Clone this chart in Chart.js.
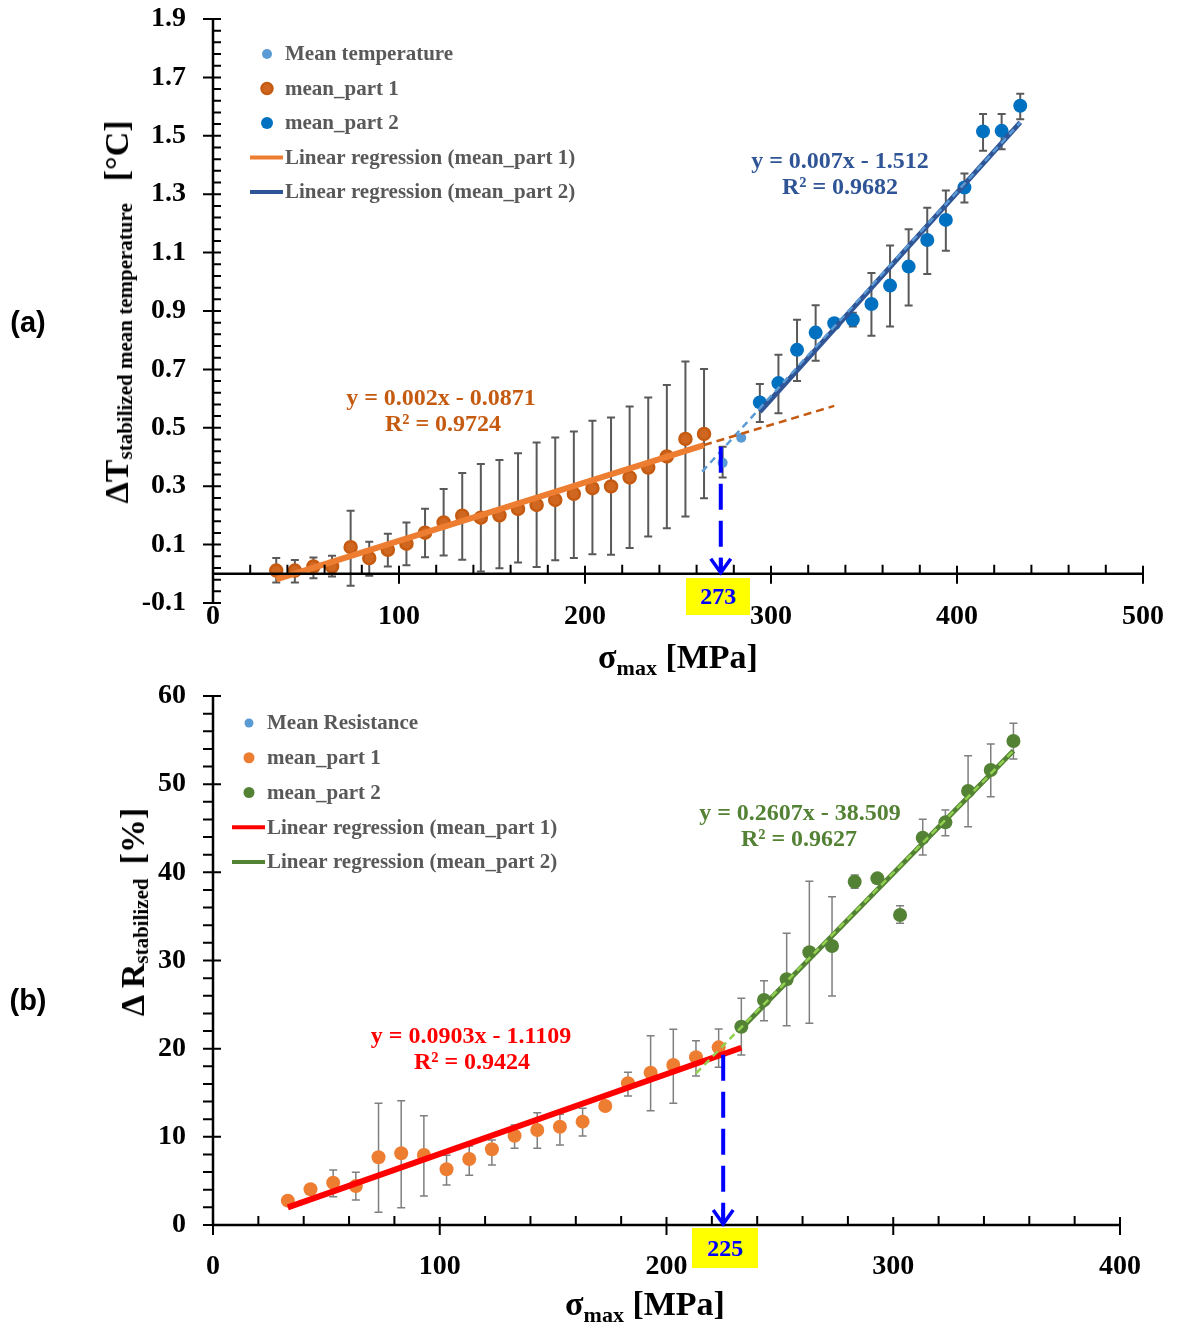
<!DOCTYPE html>
<html><head><meta charset="utf-8">
<script src="https://cdn.jsdelivr.net/npm/chart.js@4.4.0/dist/chart.umd.min.js"></script>
<style>
html,body{margin:0;padding:0;background:#fff;}
#wrap{position:relative;width:1179px;height:1329px;overflow:hidden;background:#fff;font-family:'Liberation Serif','Times New Roman',serif;}
canvas{position:absolute;left:0;}
.t{position:absolute;white-space:nowrap;font-weight:bold;transform:translate(-50%,-50%);line-height:1;}
.eq{font-size:24px;}
.xt{font-size:34px;color:#000;}
.xt sub{font-size:22px;vertical-align:baseline;position:relative;top:7px;}
.yt{font-size:34px;color:#000;transform:translate(-50%,-50%) rotate(-90deg);line-height:40px;}
.yt sub{font-size:21px;vertical-align:baseline;position:relative;top:4px;}
.pl{font-family:'Liberation Sans',Arial,sans-serif;font-size:29px;color:#000;}
.box{position:absolute;background:#FFFF00;color:#0000FF;font-weight:bold;font-size:24px;display:flex;align-items:center;justify-content:center;}
</style></head>
<body>
<div id="wrap">
<canvas id="ca" width="1179" height="665" style="top:0"></canvas>
<canvas id="cb" width="1179" height="664" style="top:665px"></canvas>

<div class="t pl" style="left:28px;top:322px">(a)</div>
<div class="t pl" style="left:28px;top:1000px">(b)</div>

<div class="t yt" style="left:119px;top:312px">ΔT<sub>stabilized mean temperature</sub><span style="margin-left:22px">[°C]</span></div>
<div class="t xt" style="left:678px;top:657px">σ<sub>max</sub> [MPa]</div>
<div class="t yt" style="left:135px;top:912px">Δ R<sub>stabilized</sub><span style="margin-left:14px">[%]</span></div>
<div class="t xt" style="left:645px;top:1304px">σ<sub>max</sub> [MPa]</div>

<div class="t eq" style="left:441px;top:397px;color:#C55A11">y = 0.002x - 0.0871</div>
<div class="t eq" style="left:443px;top:423px;color:#C55A11">R² = 0.9724</div>
<div class="t eq" style="left:840px;top:160px;color:#2F5597">y = 0.007x - 1.512</div>
<div class="t eq" style="left:840px;top:186px;color:#2F5597">R² = 0.9682</div>
<div class="t eq" style="left:471px;top:1035px;color:#FF0000">y = 0.0903x - 1.1109</div>
<div class="t eq" style="left:472px;top:1061px;color:#FF0000">R² = 0.9424</div>
<div class="t eq" style="left:800px;top:812px;color:#548235">y = 0.2607x - 38.509</div>
<div class="t eq" style="left:799px;top:838px;color:#548235">R² = 0.9627</div>

<div class="box" style="left:686px;top:578px;width:64px;height:37px">273</div>
<div class="box" style="left:692px;top:1228px;width:66px;height:40px">225</div>
</div>

<script>
// ---------- Panel (a) data : ΔT stabilized mean temperature [°C] vs σmax [MPa]
const sigmaA1 = [34,44,54,64,74,84,94,104,114,124,134,144,154,164,174,184,194,204,214,224,234,244,254,264];
const dTPart1 = [0.011,0.011,0.025,0.025,0.091,0.054,0.082,0.103,0.141,0.176,0.199,0.192,0.200,0.222,0.236,0.253,0.274,0.293,0.299,0.330,0.364,0.402,0.462,0.479];
const dTPart1Hi = [0.054,0.047,0.056,0.062,0.216,0.110,0.137,0.176,0.223,0.290,0.345,0.376,0.390,0.413,0.450,0.467,0.487,0.524,0.535,0.573,0.604,0.647,0.727,0.701];
const dTPart1Lo = [-0.030,-0.030,-0.015,-0.009,-0.041,-0.007,0.025,0.029,0.057,0.063,0.048,0.008,0.019,0.039,0.023,0.046,0.054,0.067,0.065,0.088,0.128,0.156,0.196,0.259];

const sigmaAM = [274,284];
const dTMid = [0.380,0.466];
const dTMidHi = [0.435,0.466];
const dTMidLo = [0.330,0.466];

const sigmaA2 = [294,304,314,324,334,344,354,364,374,384,394,404,414,424,434];
const dTPart2 = [0.587,0.653,0.767,0.826,0.858,0.870,0.924,0.987,1.052,1.143,1.212,1.323,1.515,1.517,1.603];
const dTPart2Hi = [0.650,0.750,0.870,0.920,0.858,0.894,1.030,1.124,1.180,1.254,1.313,1.371,1.575,1.575,1.644];
const dTPart2Lo = [0.520,0.550,0.660,0.730,0.858,0.847,0.815,0.847,0.919,1.027,1.106,1.272,1.449,1.454,1.557];

const regA1X = [34,264],  regA1Y = [-0.019,0.441];
const regA1ExtX = [264,334], regA1ExtY = [0.441,0.575];
const regA2X = [294,434], regA2Y = [0.555,1.546];
const regA2ExtX = [263,434], regA2ExtY = [0.350,1.546];
const arrowA = [273, 0.435];
const yTicksA = [-0.1, 1.9, 0.2];
const xTicksA = [0, 500, 100];

// ---------- Panel (b) data : ΔR stabilized [%] vs σmax [MPa]
const sigmaB1 = [33,43,53,63,73,83,93,103,113,123,133,143,153,163,173,183,193,203,213,223];
const dRPart1 = [2.76,4.05,4.80,4.42,7.68,8.13,7.94,6.32,7.49,8.60,10.13,10.77,11.15,11.72,13.50,16.07,17.28,18.15,19.02,20.15];
const dRPart1Hi = [2.76,4.05,6.24,5.97,13.80,14.10,12.40,7.90,8.96,9.64,11.34,12.74,12.55,13.23,13.50,17.32,21.47,22.20,20.90,22.23];
const dRPart1Lo = [2.76,4.05,3.21,2.83,1.44,1.97,3.29,4.54,5.63,6.80,8.70,8.70,9.07,10.10,13.50,14.63,12.96,13.80,16.90,17.89];

const sigmaB2 = [233,243,253,263,273,283,293,303,313,323,333,343,353];
const dRPart2 = [22.49,25.52,27.87,30.93,31.64,38.94,39.32,35.16,43.93,45.67,49.22,51.60,54.89];
const dRPart2Hi = [25.71,27.71,33.08,39.00,37.24,39.70,39.32,36.22,46.01,47.07,53.23,54.55,56.90];
const dRPart2Lo = [19.28,23.17,22.60,22.87,25.97,38.19,39.32,34.22,41.96,44.15,45.17,48.58,52.85];

const regB1X = [33,233],  regB1Y = [2.0,20.1];
const regB2X = [233,353], regB2Y = [22.3,53.8];
const regB2ExtX = [213,353], regB2ExtY = [17.2,53.8];
const arrowB = [225, 19.3];
const yTicksB = [0, 60, 10];
const xTicksB = [0, 400, 100];

// ---------- helpers
const SERIF = "'Liberation Serif','Times New Roman',serif";
const pts = (xs, ys) => xs.map((x, i) => ({x, y: ys[i]}));

function errorBars(sets) {
  return { id: 'errorBars', beforeDatasetsDraw(chart) {
    const ctx = chart.ctx, xs = chart.scales.x, ys = chart.scales.y;
    ctx.save();
    sets.forEach(s => {
      ctx.strokeStyle = s.color; ctx.lineWidth = s.width;
      ctx.beginPath();
      s.x.forEach((xv, i) => {
        if (s.hi[i] === s.lo[i]) return;
        const px = xs.getPixelForValue(xv), p1 = ys.getPixelForValue(s.hi[i]), p2 = ys.getPixelForValue(s.lo[i]);
        ctx.moveTo(px, p1); ctx.lineTo(px, p2);
        ctx.moveTo(px - s.cap, p1); ctx.lineTo(px + s.cap, p1);
        ctx.moveTo(px - s.cap, p2); ctx.lineTo(px + s.cap, p2);
      });
      ctx.stroke();
    });
    ctx.restore();
  }};
}

function axesDecor(c) {
  return { id: 'axesDecor', afterDatasetsDraw(chart) {
    const ctx = chart.ctx, xs = chart.scales.x, ys = chart.scales.y;
    const x0 = xs.getPixelForValue(c.xMin), x1 = xs.getPixelForValue(c.xMax);
    const yT = ys.getPixelForValue(c.yMax), yB = ys.getPixelForValue(c.yMin);
    const yAx = ys.getPixelForValue(c.xAxisAt);
    ctx.save();
    ctx.strokeStyle = '#000'; ctx.lineWidth = 2.5;
    ctx.beginPath();
    ctx.moveTo(x0, yT - 1); ctx.lineTo(x0, yB + 1);
    ctx.moveTo(x0, yAx); ctx.lineTo(x1 + 1, yAx);
    ctx.stroke();
    ctx.lineWidth = 2;
    ctx.beginPath();
    const nY = Math.round((c.yMax - c.yMin) / c.yMinor);
    for (let k = 0; k <= nY; k++) {
      const p = ys.getPixelForValue(c.yMin + k * c.yMinor);
      if (k % 5 === 0) { ctx.moveTo(x0 - 10, p); ctx.lineTo(x0 + 8, p); }
      else { ctx.moveTo(x0 + c.yMinA, p); ctx.lineTo(x0 + c.yMinB, p); }
    }
    const nX = Math.round((c.xMax - c.xMin) / c.xMinor);
    for (let k = 0; k <= nX; k++) {
      const p = xs.getPixelForValue(c.xMin + k * c.xMinor);
      if (k % 5 === 0) { ctx.moveTo(p, yAx - 8); ctx.lineTo(p, yAx + 10); }
      else { ctx.moveTo(p, yAx - 9); ctx.lineTo(p, yAx); }
    }
    ctx.stroke();
    // arrow
    const ax = xs.getPixelForValue(c.arrow[0]);
    const ay0 = ys.getPixelForValue(c.arrow[1]);
    ctx.strokeStyle = '#0000FF'; ctx.lineWidth = 4;
    ctx.setLineDash([26, 11]);
    ctx.beginPath(); ctx.moveTo(ax, ay0); ctx.lineTo(ax, yAx - 3); ctx.stroke();
    ctx.setLineDash([]);
    ctx.lineWidth = 3.5;
    ctx.beginPath();
    ctx.moveTo(ax - 10, yAx - 15); ctx.lineTo(ax, yAx - 1); ctx.lineTo(ax + 10, yAx - 15);
    ctx.moveTo(ax, yAx - 16); ctx.lineTo(ax, yAx - 1);
    ctx.stroke();
    ctx.restore();
  }};
}

function legendDecor(entries, pos) {
  return { id: 'legendDecor', afterDraw(chart) {
    const ctx = chart.ctx;
    ctx.save();
    ctx.font = 'bold 21px ' + SERIF;
    ctx.textBaseline = 'middle';
    entries.forEach((ds, i) => {
      const y = pos.y0 + i * pos.dy;
      if (ds.showLine) {
        ctx.strokeStyle = ds.borderColor; ctx.lineWidth = 4;
        ctx.beginPath(); ctx.moveTo(pos.lx0, y); ctx.lineTo(pos.lx1, y); ctx.stroke();
      } else {
        ctx.beginPath(); ctx.arc(pos.mx, y, ds.legendR, 0, Math.PI * 2);
        ctx.fillStyle = ds.backgroundColor; ctx.fill();
        if (ds.borderWidth) { ctx.lineWidth = ds.borderWidth; ctx.strokeStyle = ds.borderColor; ctx.stroke(); }
      }
      ctx.fillStyle = '#595959';
      ctx.fillText(ds.label, pos.tx, y + 1);
    });
    ctx.restore();
  }};
}

function scaleOpts(tk, yWidth, xHeight, xPad, fmt) {
  const font = {family: SERIF, size: 28, weight: 'bold', lineHeight: 1};
  return {
    x: { type: 'linear', min: tk.x[0], max: tk.x[1],
         ticks: {stepSize: tk.x[2], color: '#000', font, padding: xPad, autoSkip: false, maxRotation: 0},
         grid: {display: false, drawTicks: false}, border: {display: false},
         afterFit: s => { s.height = xHeight; s.paddingLeft = 0; s.paddingRight = 0; } },
    y: { type: 'linear', min: tk.y[0], max: tk.y[1],
         ticks: {stepSize: tk.y[2], color: '#000', font, padding: 27, callback: fmt},
         grid: {display: false, drawTicks: false}, border: {display: false},
         afterFit: s => { s.width = yWidth; s.paddingTop = 0; s.paddingBottom = 0; } }
  };
}

// ---------- Chart (a)
const dsA_mean = {label: 'Mean temperature', data: pts(sigmaA1.concat(sigmaAM, sigmaA2), dTPart1.concat(dTMid, dTPart2)),
  backgroundColor: '#5B9BD5', borderWidth: 0, pointRadius: 5, legendR: 5, order: 4};
const dsA_p1 = {label: 'mean_part 1', data: pts(sigmaA1, dTPart1), backgroundColor: '#D06720', borderColor: '#C55A11',
  borderWidth: 2.5, pointRadius: 6, legendR: 5.5, order: 3};
const dsA_p2 = {label: 'mean_part 2', data: pts(sigmaA2, dTPart2), backgroundColor: '#0070C0', borderWidth: 0, pointRadius: 7, legendR: 6, order: 3};
const dsA_r1 = {label: 'Linear regression (mean_part 1)', data: pts(regA1X, regA1Y), showLine: true, borderColor: '#ED7D31',
  borderWidth: 6, pointRadius: 0, order: 2};
const dsA_r2 = {label: 'Linear regression (mean_part 2)', data: pts(regA2X, regA2Y), showLine: true, borderColor: '#2F5597',
  borderWidth: 5, pointRadius: 0, order: 2};
const dsA_e1 = {label: 'Forecast (mean_part 1)', data: pts(regA1ExtX, regA1ExtY), showLine: true, borderColor: '#C55A11',
  borderWidth: 2.5, borderDash: [8, 5], pointRadius: 0, order: 1};
const dsA_e2 = {label: 'Trend (Mean temperature)', data: pts(regA2ExtX, regA2ExtY), showLine: true, borderColor: '#5B9BD5',
  borderWidth: 2.5, borderDash: [7, 5], pointRadius: 0, order: 1};

new Chart(document.getElementById('ca'), {
  type: 'scatter',
  data: {datasets: [dsA_e1, dsA_e2, dsA_r1, dsA_r2, dsA_p1, dsA_p2, dsA_mean]},
  options: {
    responsive: false, animation: false, events: [],
    layout: {padding: {top: 19, right: 36, left: 0, bottom: 0}},
    plugins: {legend: {display: false}, tooltip: {enabled: false}},
    scales: scaleOpts({x: xTicksA, y: yTicksA}, 213, 62, 0, v => Number(v).toFixed(1))
  },
  plugins: [
    errorBars([
      {x: sigmaA1, hi: dTPart1Hi, lo: dTPart1Lo, color: '#595959', width: 2, cap: 4},
      {x: sigmaAM, hi: dTMidHi, lo: dTMidLo, color: '#595959', width: 2, cap: 4},
      {x: sigmaA2, hi: dTPart2Hi, lo: dTPart2Lo, color: '#595959', width: 2, cap: 4}
    ]),
    axesDecor({xMin: 0, xMax: 500, xMinor: 20, yMin: -0.1, yMax: 1.9, yMinor: 0.04, xAxisAt: 0, yMinA: 0, yMinB: 8, arrow: arrowA}),
    legendDecor([dsA_mean, dsA_p1, dsA_p2, dsA_r1, dsA_r2], {y0: 54, dy: 34.5, mx: 267, lx0: 250, lx1: 283, tx: 285})
  ]
});

// ---------- Chart (b)
const dsB_mean = {label: 'Mean Resistance', data: pts(sigmaB1.concat(sigmaB2), dRPart1.concat(dRPart2)),
  backgroundColor: '#5B9BD5', borderWidth: 0, pointRadius: 5, legendR: 4.5, order: 4};
const dsB_p1 = {label: 'mean_part 1', data: pts(sigmaB1, dRPart1), backgroundColor: '#ED7D31', borderWidth: 0, pointRadius: 7, legendR: 5.5, order: 3};
const dsB_p2 = {label: 'mean_part 2', data: pts(sigmaB2, dRPart2), backgroundColor: '#548235', borderWidth: 0, pointRadius: 7, legendR: 5.5, order: 3};
const dsB_r1 = {label: 'Linear regression (mean_part 1)', data: pts(regB1X, regB1Y), showLine: true, borderColor: '#FF0000',
  borderWidth: 6, pointRadius: 0, order: 2};
const dsB_r2 = {label: 'Linear regression (mean_part 2)', data: pts(regB2X, regB2Y), showLine: true, borderColor: '#548235',
  borderWidth: 5, pointRadius: 0, order: 2};
const dsB_e2 = {label: 'Trend (Mean Resistance)', data: pts(regB2ExtX, regB2ExtY), showLine: true, borderColor: '#92D050',
  borderWidth: 2.5, borderDash: [7, 5], pointRadius: 0, order: 1};

new Chart(document.getElementById('cb'), {
  type: 'scatter',
  data: {datasets: [dsB_e2, dsB_r1, dsB_r2, dsB_p1, dsB_p2, dsB_mean]},
  options: {
    responsive: false, animation: false, events: [],
    layout: {padding: {top: 31, right: 59, left: 0, bottom: 0}},
    plugins: {legend: {display: false}, tooltip: {enabled: false}},
    scales: scaleOpts({x: xTicksB, y: yTicksB}, 213, 104, 28, v => String(v))
  },
  plugins: [
    errorBars([
      {x: sigmaB1, hi: dRPart1Hi, lo: dRPart1Lo, color: '#7F7F7F', width: 1.5, cap: 4},
      {x: sigmaB2, hi: dRPart2Hi, lo: dRPart2Lo, color: '#7F7F7F', width: 1.5, cap: 4}
    ]),
    axesDecor({xMin: 0, xMax: 400, xMinor: 20, yMin: 0, yMax: 60, yMinor: 2, xAxisAt: 0, yMinA: -10, yMinB: 0, arrow: arrowB}),
    legendDecor([dsB_mean, dsB_p1, dsB_p2, dsB_r1, dsB_r2], {y0: 58, dy: 34.75, mx: 249, lx0: 232, lx1: 265, tx: 267})
  ]
});
</script>
</body></html>
